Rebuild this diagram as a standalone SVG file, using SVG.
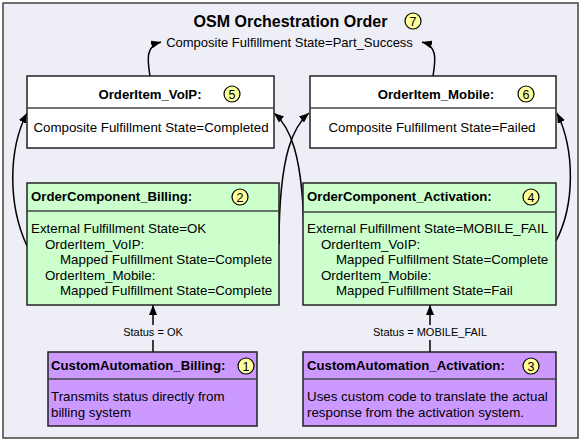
<svg xmlns="http://www.w3.org/2000/svg" width="584" height="444" viewBox="0 0 584 444">
<style>
text{font-family:"Liberation Sans",Arial,sans-serif;fill:#000}
.t{font-size:13.2px;font-weight:bold}
.b{font-size:13.33px}
.sub{font-size:13px}
.s{font-size:11px}
.h{font-size:16px;font-weight:bold}
.n{font-size:12.5px;text-anchor:middle}
.c{text-anchor:middle}
.box{stroke:#222;stroke-width:1.5}
.w{fill:#fff}
.g{fill:#ccffcc}
.p{fill:#cc99ff}
.div{stroke:#444;stroke-width:1.5}
.num{fill:#ffff99;stroke:#000;stroke-width:1.2}
.con{fill:none;stroke:#000;stroke-width:1.5}
</style>
<defs>
<marker id="ah" viewBox="0 0 10 8" refX="10" refY="4" markerWidth="10" markerHeight="8" markerUnits="userSpaceOnUse" orient="auto">
<path d="M0,0 L10,4 L0,8 z" fill="#000"/>
</marker>
</defs>
<g id="frame">
<rect x="3" y="3" width="575" height="435" fill="#eeeef7" stroke="#444" stroke-width="1.5"/>
<text class="h c" x="290.5" y="27">OSM Orchestration Order</text>
<circle class="num" cx="413" cy="21" r="8"/>
<text class="n" x="413" y="25.5">7</text>
<text class="sub c" x="289.5" y="47">Composite Fulfillment State=Part_Success</text>
</g>
<g id="connectors">
<path class="con" d="M150,76 C147,58 146,46 161,42" marker-end="url(#ah)"/>
<path class="con" d="M433,76 C436,58 437,46 422,42" marker-end="url(#ah)"/>
<path class="con" d="M27,246 C8,205 8,150 27,113" marker-end="url(#ah)"/>
<path class="con" d="M556,241 C575,205 575,150 557,113" marker-end="url(#ah)"/>
<path class="con" d="M279,244 C279,150 295,125 309,113" marker-end="url(#ah)"/>
<path class="con" d="M304,244 C304,150 288,125 274,113" marker-end="url(#ah)"/>
<path class="con" d="M153,352 L153,340"/>
<path class="con" d="M153,325 L153,305" marker-end="url(#ah)"/>
<text class="s c" x="153" y="336">Status = OK</text>
<path class="con" d="M430,352 L430,340"/>
<path class="con" d="M430,325 L430,305" marker-end="url(#ah)"/>
<text class="s c" x="430" y="336">Status = MOBILE_FAIL</text>
</g>
<g id="orderitem-voip">
<rect class="box w" x="27" y="76" width="247" height="72"/>
<line class="div" x1="27" y1="108" x2="274" y2="108"/>
<text class="t c" x="150" y="99">OrderItem_VoIP:</text>
<circle class="num" cx="232" cy="94" r="8"/>
<text class="n" x="232" y="98.5">5</text>
<text class="b c" x="151" y="132">Composite Fulfillment State=Completed</text>
</g>
<g id="orderitem-mobile">
<rect class="box w" x="310" y="76" width="246" height="72"/>
<line class="div" x1="310" y1="108" x2="556" y2="108"/>
<text class="t c" x="436" y="99">OrderItem_Mobile:</text>
<circle class="num" cx="526" cy="94" r="8"/>
<text class="n" x="526" y="98.5">6</text>
<text class="b c" x="432" y="132">Composite Fulfillment State=Failed</text>
</g>
<g id="ordercomponent-billing">
<rect class="box g" x="27" y="183" width="252" height="122"/>
<line class="div" x1="27" y1="211" x2="279" y2="211"/>
<text class="t" x="31" y="201">OrderComponent_Billing:</text>
<circle class="num" cx="240" cy="197" r="8"/>
<text class="n" x="240" y="201.5">2</text>
<text class="b" x="31" y="233">External Fulfillment State=OK</text>
<text class="b" x="45" y="248.5">OrderItem_VoIP:</text>
<text class="b" x="60" y="264">Mapped Fulfillment State=Complete</text>
<text class="b" x="45" y="279.5">OrderItem_Mobile:</text>
<text class="b" x="60" y="295">Mapped Fulfillment State=Complete</text>
</g>
<g id="ordercomponent-activation">
<rect class="box g" x="303" y="183" width="253" height="122"/>
<line class="div" x1="303" y1="212" x2="556" y2="212"/>
<text class="t" x="307" y="201">OrderComponent_Activation:</text>
<circle class="num" cx="531" cy="197" r="8"/>
<text class="n" x="531" y="201.5">4</text>
<text class="b" x="307" y="233">External Fulfillment State=MOBILE_FAIL</text>
<text class="b" x="321" y="248.5">OrderItem_VoIP:</text>
<text class="b" x="336" y="264">Mapped Fulfillment State=Complete</text>
<text class="b" x="321" y="279.5">OrderItem_Mobile:</text>
<text class="b" x="336" y="295">Mapped Fulfillment State=Fail</text>
</g>
<g id="customautomation-billing">
<rect class="box p" x="48" y="352" width="209" height="74"/>
<line class="div" x1="48" y1="379" x2="257" y2="379"/>
<text class="t" x="51" y="370">CustomAutomation_Billing:</text>
<circle class="num" cx="246" cy="366" r="8"/>
<text class="n" x="246" y="370.5">1</text>
<text class="b" x="51" y="401">Transmits status directly from</text>
<text class="b" x="51" y="417">billing system</text>
</g>
<g id="customautomation-activation">
<rect class="box p" x="303" y="352" width="253" height="74"/>
<line class="div" x1="303" y1="379" x2="556" y2="379"/>
<text class="t" x="307" y="370">CustomAutomation_Activation:</text>
<circle class="num" cx="531" cy="366" r="8"/>
<text class="n" x="531" y="370.5">3</text>
<text class="b" x="307" y="401">Uses custom code to translate the actual</text>
<text class="b" x="307" y="417">response from the activation system.</text>
</g>
</svg>
